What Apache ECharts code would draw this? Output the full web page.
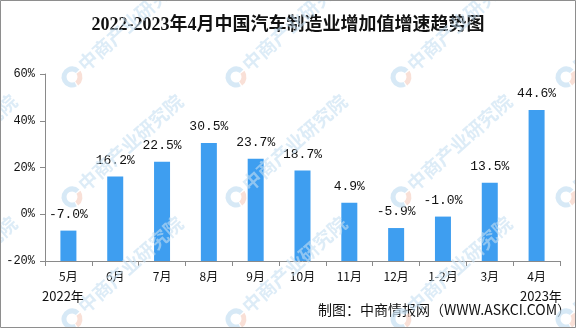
<!DOCTYPE html>
<html>
<head>
<meta charset="utf-8">
<script src="https://cdn.jsdelivr.net/npm/echarts@6/dist/echarts.min.js"></script>
<style>
  html, body { margin: 0; padding: 0; background: #fff; }
  #chart { width: 576px; height: 328px; }
</style>
</head>
<body>
<div id="chart"></div>
<script>
// Monthly growth of value added, China automobile manufacturing
const categories = ['5月', '6月', '7月', '8月', '9月', '10月', '11月', '12月', '1-2月', '3月', '4月'];
const growth = [-7.0, 16.2, 22.5, 30.5, 23.7, 18.7, 4.9, -5.9, -1.0, 13.5, 44.6];
const yTicks = [-20, 0, 20, 40, 60];

const yMin = yTicks[0];
const yMax = yTicks[yTicks.length - 1];
const barColor = '#3e9ef0';
const monoFont = '"Liberation Mono", "DejaVu Sans Mono", monospace';
const cjkFont = '"Noto Sans CJK SC", "DejaVu Sans", sans-serif';

// Watermark: logo ring plus rotated brand text, repeated on a grid
const markXs = [-94, 72, 236, 401, 566];
const markYs = [-45, 77, 197, 319];
const watermark = [];
markXs.forEach(function (x) {
  markYs.forEach(function (y) {
    watermark.push({
      type: 'arc', z: 100, silent: true,
      shape: { cx: x, cy: y, r: 8, startAngle: Math.PI * 0.35, endAngle: Math.PI * 1.75 },
      style: { stroke: '#c6dff2', lineWidth: 5, fill: null, opacity: 0.7 }
    });
    watermark.push({
      type: 'arc', z: 100, silent: true,
      shape: { cx: x, cy: y, r: 8, startAngle: Math.PI * 1.8, endAngle: Math.PI * 2.3 },
      style: { stroke: '#f6d3c6', lineWidth: 5, fill: null, opacity: 0.7 }
    });
    watermark.push({
      type: 'text', z: 100, silent: true,
      x: x + 9, y: y - 10, rotation: 0.73,
      style: {
        text: '中商产业研究院', fill: '#c6dff2', opacity: 0.6,
        font: 'bold 19px ' + cjkFont, align: 'left', verticalAlign: 'middle'
      }
    });
  });
});

const chart = echarts.init(document.getElementById('chart'));
chart.setOption({
  animation: false,
  backgroundColor: '#fff',
  title: {
    text: '2022-2023年4月中国汽车制造业增加值增速趋势图',
    left: 'center', top: 11,
    textStyle: {
      fontFamily: '"Liberation Serif", "Noto Sans CJK SC", serif',
      fontSize: 18, fontWeight: 'bold', color: '#111'
    }
  },
  grid: { left: 45, right: 16, top: 74, bottom: 67, containLabel: false },
  xAxis: {
    type: 'category',
    data: categories,
    boundaryGap: true,
    axisLine: { onZero: false, lineStyle: { color: '#8a8a8a', width: 1 } },
    axisTick: { show: true, length: 5, lineStyle: { color: '#8a8a8a' } },
    axisLabel: { margin: 9, fontSize: 12, color: '#111', fontFamily: cjkFont },
    splitLine: { show: false }
  },
  yAxis: {
    type: 'value',
    min: yMin, max: yMax, interval: 20,
    axisLine: { show: true, lineStyle: { color: '#8a8a8a', width: 1 } },
    axisTick: { show: true, length: 5, lineStyle: { color: '#8a8a8a' } },
    axisLabel: {
      margin: 10, fontSize: 12, color: '#111', fontFamily: monoFont,
      formatter: function (v) { return v + '%'; }
    },
    splitLine: { show: false }
  },
  series: [{
    type: 'custom',
    data: categories.map(function (c, i) { return [i, growth[i]]; }),
    encode: { x: 0, y: 1 },
    renderItem: function (params, api) {
      const idx = api.value(0);
      const v = api.value(1);
      const top = api.coord([idx, v]);
      const base = api.coord([idx, yMin]);
      const w = 16;
      return {
        type: 'group',
        children: [
          {
            type: 'rect',
            shape: { x: top[0] - w / 2, y: top[1], width: w, height: base[1] - top[1] },
            style: { fill: barColor }
          },
          {
            type: 'text',
            x: top[0], y: top[1] - 16,
            style: {
              text: v.toFixed(1) + '%', fill: '#111',
              font: '13px ' + monoFont, align: 'center', verticalAlign: 'middle'
            }
          }
        ]
      };
    }
  }],
  graphic: [
    {
      type: 'text', left: 42, top: 290,
      style: { text: '2022年', fill: '#111', font: '13px ' + cjkFont }
    },
    {
      type: 'text', left: 520, top: 290,
      style: { text: '2023年', fill: '#111', font: '13px ' + cjkFont }
    },
    {
      type: 'text', left: 318, top: 303,
      style: { text: '制图：中商情报网（WWW.ASKCI.COM）', fill: '#111', font: '14px ' + cjkFont }
    },
    {
      type: 'rect', z: 110, silent: true,
      shape: { x: 0.5, y: 0.5, width: 575, height: 327 },
      style: { fill: null, stroke: '#8e8e8e', lineWidth: 1 }
    }
  ].concat(watermark)
});
</script>
</body>
</html>
